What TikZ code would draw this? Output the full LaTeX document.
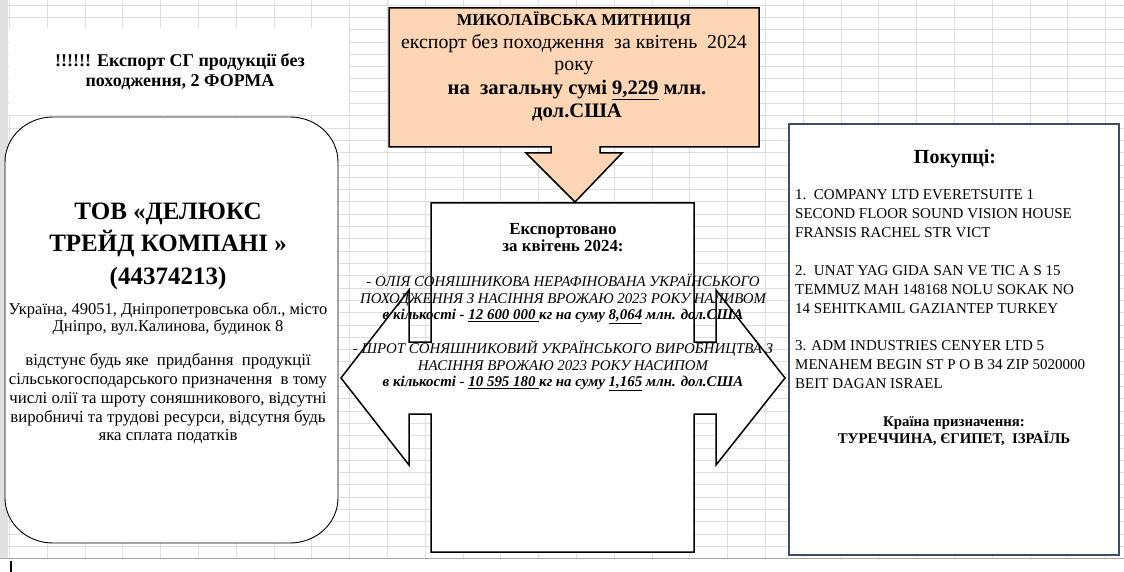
\documentclass[tikz,border=0pt]{standalone}
\usepackage{fontspec}
\setmainfont{Liberation Serif}
\usepackage{tikz}
\usetikzlibrary{positioning}
\usepackage{xcolor}
\definecolor{peach}{RGB}{252,213,181}
\definecolor{cellline}{RGB}{222,222,222}
\definecolor{slateedge}{RGB}{62,78,98}
\newcommand{\fsz}[2]{\fontsize{#1}{#2}\selectfont}
\tikzset{
  calloutshape/.style={draw=black, line width=1.5pt, line join=miter},
  roundbox/.style={draw=black, line width=0.9pt, fill=white},
  buyerframe/.style={draw=slateedge, line width=1.1pt, fill=white},
  cellgrid/.style={draw=cellline, line width=0.6pt},
  txt/.style={align=center, inner sep=0pt, text=black},
  lefttxt/.style={align=left, inner sep=0pt, text=black, anchor=west}
}

\begin{document}
\begin{tikzpicture}[x=1pt, y=-1pt]
\useasboundingbox (0,0) rectangle (1124,572);
% sheet background
\fill[white] (0,0) rectangle (1124,572);
\fill[black!12] (0,0) rectangle (8,558);
\foreach \gx in {0,...,29} \draw[cellgrid] ({9.2+37.8*\gx},0) -- ({9.2+37.8*\gx},558);
\foreach \gy in {0,...,45} \draw[cellgrid] (0,{5+12.3*\gy}) -- (1124,{5+12.3*\gy});
\draw[black!35, line width=0.8pt] (0,558.5) -- (1124,558.5);
\fill[white] (9,28) rectangle (349,115);
\draw[black, line width=2pt] (11,561) -- (11,572);
% heading over the company
\node[txt, font=\bfseries\fsz{18}{20}] (heading) at (180,72) {!!!!!! Експорт СГ продукції без\\походження, 2 ФОРМА};
% company
\draw[roundbox] (53,117) -- (290,117) .. controls (316.5,117) and (338,137) .. (338,162) -- (338,498) .. controls (338,523) and (316.5,543) .. (290,543) -- (53,543) .. controls (26.5,543) and (5,523) .. (5,498) -- (5,162) .. controls (5,137) and (26.5,117) .. (53,117) -- cycle;
\node[txt, font=\bfseries\fsz{25}{32.5}] (company) at (168,246) {ТОВ «ДЕЛЮКС\\ ТРЕЙД КОМПАНІ »\\(44374213)};
\node[txt, font=\fsz{16.5}{16.5}] (address) at (168,319) {Україна, 49051, Дніпропетровська обл., місто\\Дніпро, вул.Калинова, будинок 8};
\node[txt, font=\fsz{16.8}{18.7}] (absence) at (168,399) {відстунє будь яке\ \ придбання\ \ продукції\\сільськогосподарського призначення\ \ в тому\\числі олії та шроту соняшникового, відсутні\\виробничі та трудові ресурси, відсутня будь\\яка сплата податків};
% customs callout
\draw[calloutshape, fill=peach] (389,8) -- (759,8) -- (759,147) -- (600,147) -- (600,153) -- (622,153) -- (575,202) -- (526,153) -- (551,153) -- (551,147) -- (389,147) -- cycle;
\node[txt, font=\bfseries\fsz{16.5}{18}] (customs) at (574,20) {МИКОЛАЇВСЬКА МИТНИЦЯ};
\node[txt, font=\fsz{19.8}{22}] (period) at (574,55) {експорт без походження\ \ за квітень\ \ 2024\\року};
\node[txt, font=\bfseries\fsz{20.6}{23}] (total) at (577,101) {на\ \ загальну сумі \underline{9,229} млн.\\дол.США};
% exported goods callout
\draw[calloutshape, fill=white] (431,203) -- (694,203) -- (694,342) -- (716,342) -- (716,290) -- (785,378) -- (716,465) -- (716,414) -- (694,414) -- (694,552) -- (431,552) -- (431,414) -- (409,414) -- (409,465) -- (341,378) -- (409,290) -- (409,342) -- (431,342) -- cycle;
\node[txt, font=\bfseries\fsz{16.9}{17}] (exported) at (563,238) {Експортовано\\за квітень 2024:};
\node[txt, font=\itshape\fsz{14.9}{16.5}] (oil) at (563,299) {- ОЛІЯ СОНЯШНИКОВА НЕРАФІНОВАНА УКРАЇНСЬКОГО\\ПОХОДЖЕННЯ З НАСІННЯ ВРОЖАЮ 2023 РОКУ НАЛИВОМ\\\bfseries в кількості - \underline{12 600 000\ }кг на суму \underline{8,064} млн. дол.США};
\node[txt, font=\itshape\fsz{14.9}{16.5}] (meal) at (563,366) {- ШРОТ СОНЯШНИКОВИЙ УКРАЇНСЬКОГО ВИРОБНИЦТВА З\\НАСІННЯ ВРОЖАЮ 2023 РОКУ НАСИПОМ\\\bfseries в кількості - \underline{10 595 180\ }кг на суму \underline{1,165} млн. дол.США};
% buyers
\draw[buyerframe] (789,124) rectangle (1119,555);
\node[txt, font=\bfseries\fsz{20}{20}] (buyers) at (955,159) {Покупці:};
\node[lefttxt, font=\fsz{15}{19}] (buyerone) at (795,214) {1.\ \ COMPANY LTD EVERETSUITE 1\\SECOND FLOOR SOUND VISION HOUSE\\FRANSIS RACHEL STR VICT};
\node[lefttxt, font=\fsz{15}{19}] (buyertwo) at (795,290) {2.\ \ UNAT YAG GIDA SAN VE TIC A S 15\\TEMMUZ MAH 148168 NOLU SOKAK NO\\14 SEHITKAMIL GAZIANTEP TURKEY};
\node[lefttxt, font=\fsz{15}{19}] (buyerthree) at (795,365) {3. ADM INDUSTRIES CENYER LTD 5\\MENAHEM BEGIN ST P O B 34 ZIP 5020000\\BEIT DAGAN ISRAEL};
\node[txt, font=\bfseries\fsz{14.8}{16.5}] (destination) at (954,431) {Країна призначення:\\ТУРЕЧЧИНА, ЄГИПЕТ,\ \ ІЗРАЇЛЬ};
\end{tikzpicture}
\end{document}
